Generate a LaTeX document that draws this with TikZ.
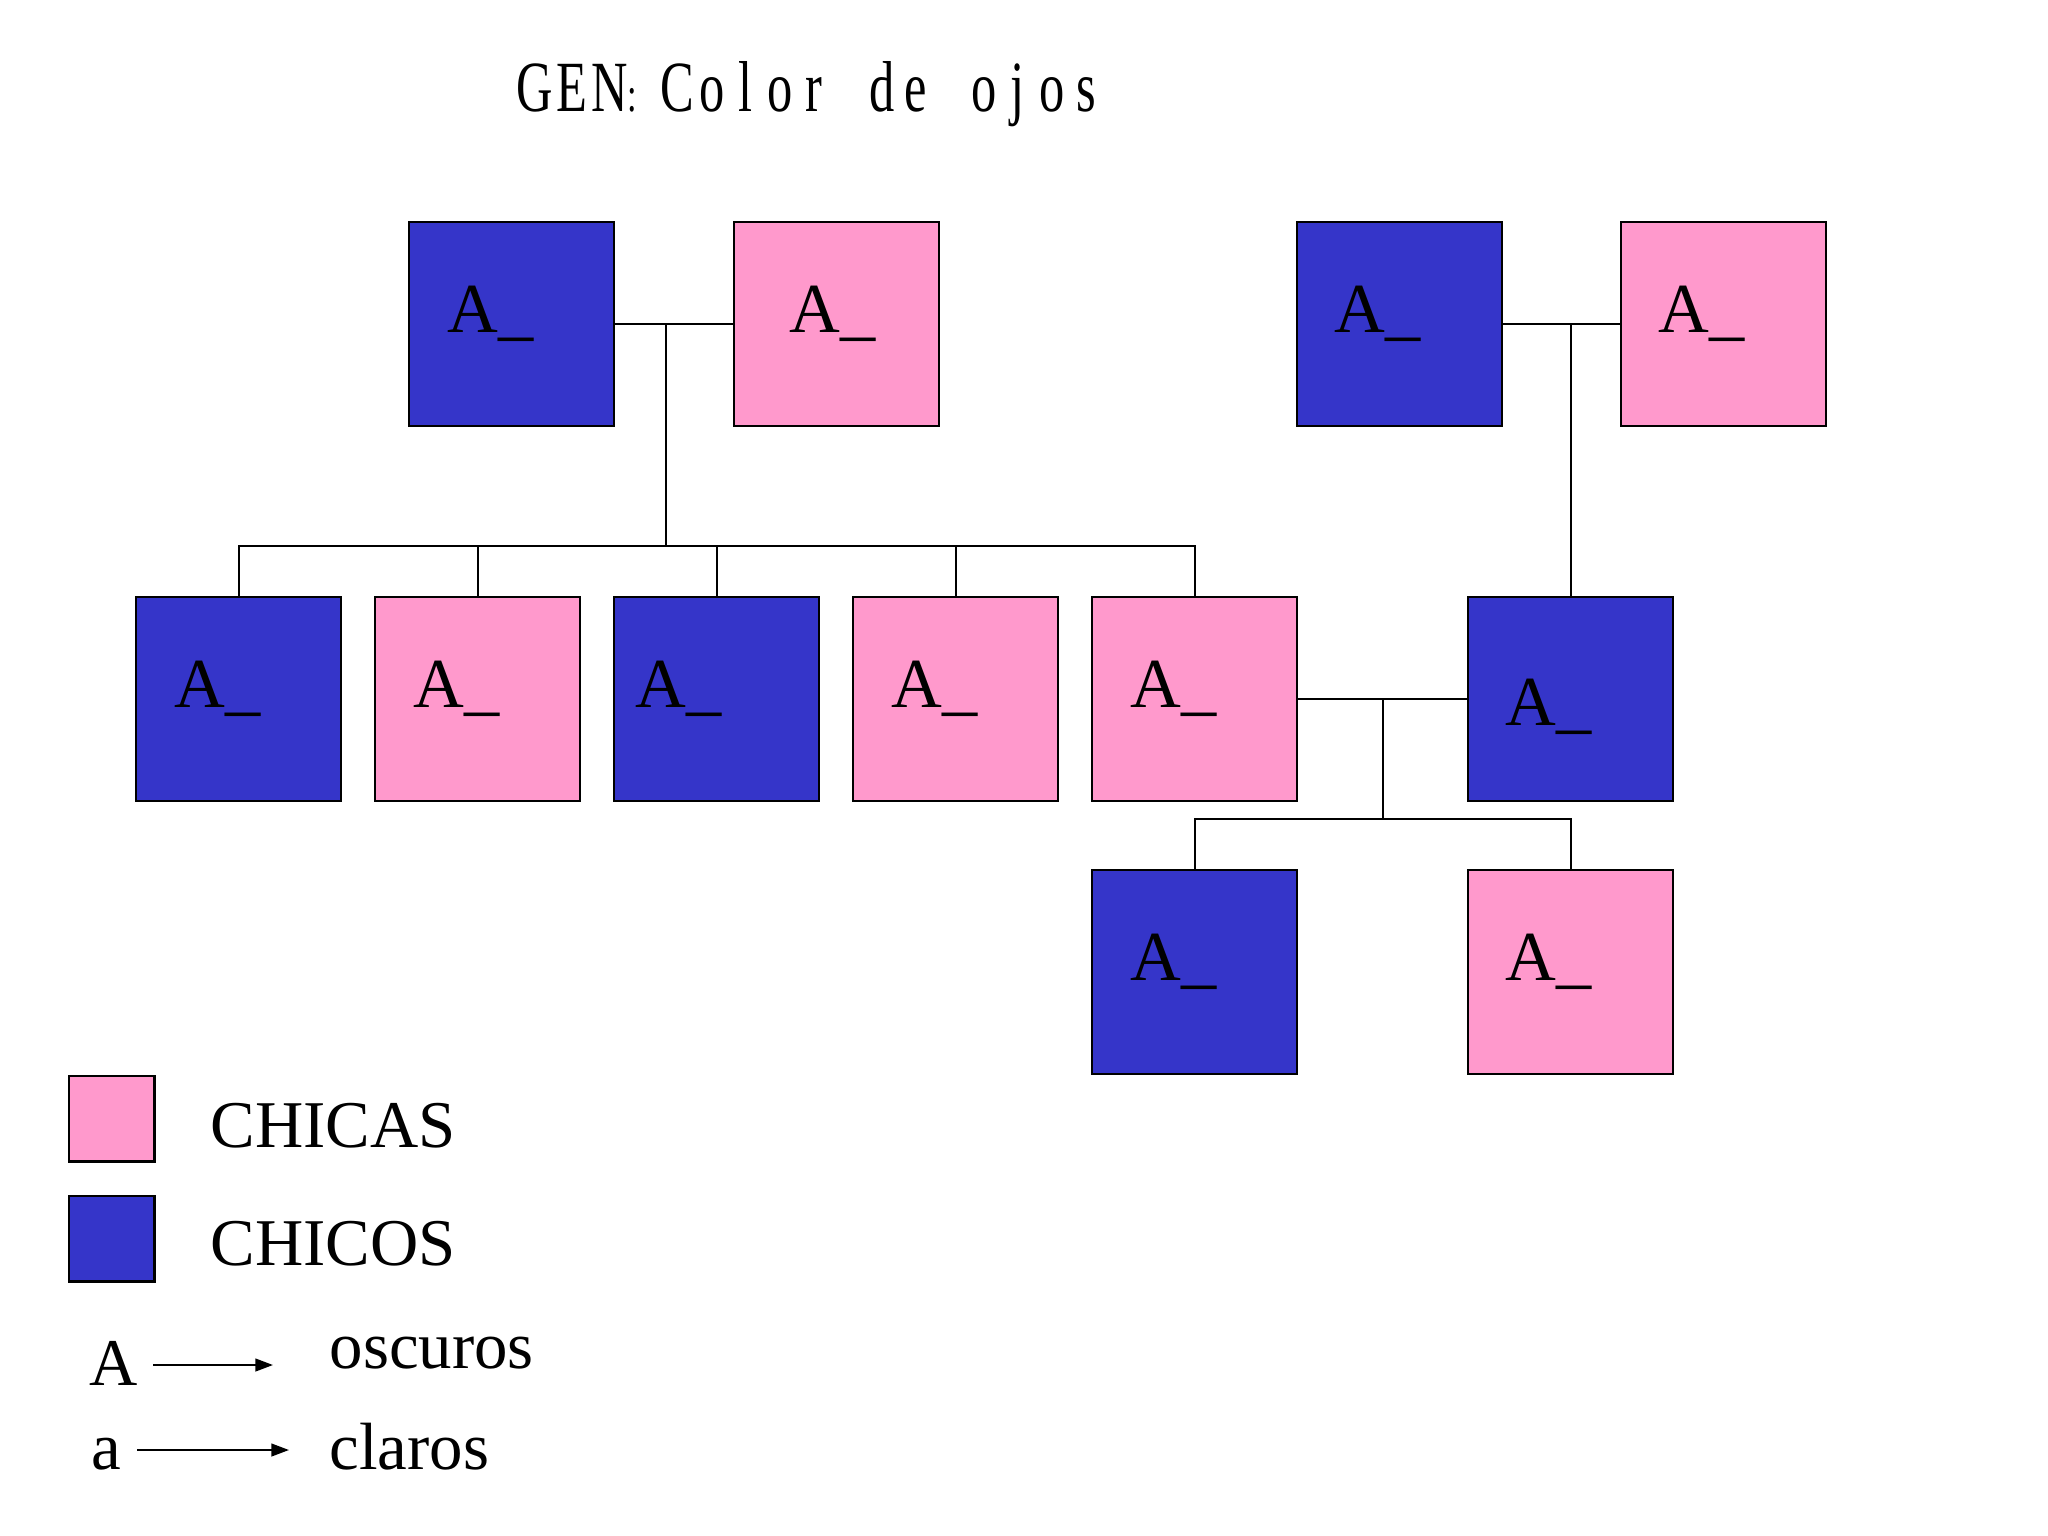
\documentclass[tikz,border=0pt]{standalone}
\usepackage{fontspec}
\setmainfont{Liberation Serif}
\newfontfamily\titlefont[FakeStretch=0.7]{Liberation Serif}
\usetikzlibrary{arrows.meta,calc}
\definecolor{boyblue}{HTML}{3535C9}
\definecolor{girlpink}{HTML}{FF99CC}
\newcommand\titlewide[1]{\makebox[0.37cm][c]{#1}}
\newcommand\titlecell[1]{\makebox[0.34cm][c]{#1}}
\begin{document}
\begin{tikzpicture}[x=0.01cm,y=-0.01cm,
  box/.style={draw=black, line width=0.7pt, minimum width=2.05cm, minimum height=2.04cm, inner sep=0pt, outer sep=0pt, anchor=north west},
  boy/.style={box, fill=boyblue},
  girl/.style={box, fill=girlpink},
  legbox/.style={draw=black, line width=0.7pt, minimum width=0.85cm, minimum height=0.85cm, inner sep=0pt, anchor=north west},
  lbl/.style={anchor=base west, inner sep=0pt, font=\fontsize{20}{24}\selectfont},
  legtxt/.style={anchor=base west, inner sep=0pt, font=\fontsize{19}{23}\selectfont},
  link/.style={line width=0.6pt},
  legarrow/.style={line width=0.6pt, -{Triangle[length=5pt,width=3.6pt]}}]
\useasboundingbox[fill=white] (0,0) rectangle (2048,1536);

% title
\node[anchor=base west, inner sep=0pt, font=\titlefont\fontsize{20.5}{24}\selectfont] (title) at (516,111)
  {\titlewide{G}\titlewide{E}\titlewide{N}\makebox[0.33cm][l]{\fontsize{14}{14}\selectfont :}%
   \titlecell{C}\titlecell{o}\titlecell{l}\titlecell{o}\titlecell{r}\titlecell{}%
   \titlecell{d}\titlecell{e}\titlecell{}%
   \titlecell{o}\titlecell{j}\titlecell{o}\titlecell{s}};

% generation 1
\node[boy]  (f1) at (409,222) {};
\node[girl] (m1) at (734,222) {};
\node[boy]  (f2) at (1297,222) {};
\node[girl] (m2) at (1621,222) {};
% generation 2
\node[boy]  (c1) at (136,597) {};
\node[girl] (c2) at (375,597) {};
\node[boy]  (c3) at (614,597) {};
\node[girl] (c4) at (853,597) {};
\node[girl] (c5) at (1092,597) {};
\node[boy]  (h)  at (1468,597) {};
% generation 3
\node[boy]  (g1) at (1092,870) {};
\node[girl] (g2) at (1468,870) {};

% labels
\node[lbl] (lf1) at ([shift={(38,110)}]f1.north west) {A\_};
\node[lbl] (lm1) at ([shift={(55,110)}]m1.north west) {A\_};
\node[lbl] (lf2) at ([shift={(37,110)}]f2.north west) {A\_};
\node[lbl] (lm2) at ([shift={(37,110)}]m2.north west) {A\_};
\node[lbl] (lc1) at ([shift={(38,110)}]c1.north west) {A\_};
\node[lbl] (lc2) at ([shift={(38,110)}]c2.north west) {A\_};
\node[lbl] (lc3) at ([shift={(21,110)}]c3.north west) {A\_};
\node[lbl] (lc4) at ([shift={(38,110)}]c4.north west) {A\_};
\node[lbl] (lc5) at ([shift={(38,110)}]c5.north west) {A\_};
\node[lbl] (lh)  at ([shift={(37,128)}]h.north west) {A\_};
\node[lbl] (lg1) at ([shift={(38,110)}]g1.north west) {A\_};
\node[lbl] (lg2) at ([shift={(37,110)}]g2.north west) {A\_};

% connectors: first couple
\draw[link] (f1.east) -- (m1.west);
\coordinate (j1) at (666,324);
\coordinate (b1) at (666,546);
\draw[link] (j1) -- (b1);
\draw[link] (c1.north) |- (b1) -| (c5.north);
\draw[link] (c2.north) -- (c2.north |- b1);
\draw[link] (c3.north) -- (c3.north |- b1);
\draw[link] (c4.north) -- (c4.north |- b1);
% second couple
\draw[link] (f2.east) -- (m2.west);
\draw[link] (h.north) -- (h.north |- f2.east);
% third couple
\draw[link] (c5.east) -- (h.west);
\coordinate (j3) at ($(c5.east)!0.5!(h.west)$);
\coordinate (b3) at ($(j3)+(0,120)$);
\draw[link] (j3) -- (b3);
\draw[link] (g1.north) |- (b3) -| (g2.north);

% legend
\node[legbox, fill=girlpink] (lgirl) at (68,1075) {};
\node[legbox, fill=boyblue]  (lboy)  at (68,1195) {};
\node[legtxt] (tgirl) at (210,1147) {CHICAS};
\node[legtxt] (tboy)  at (210,1265) {CHICOS};
\node[legtxt] (kA) at (89,1385) {A};
\node[legtxt] (ka) at (91,1469) {a};
\node[legtxt] (kosc) at (329,1368) {oscuros};
\node[legtxt] (kcla) at (329,1469) {claros};
\coordinate (a1s) at (153,1365);
\coordinate (a1e) at (273,1365);
\coordinate (a2s) at (137,1450);
\coordinate (a2e) at (289,1450);
\draw[legarrow] (a1s) -- (a1e);
\draw[legarrow] (a2s) -- (a2e);
\end{tikzpicture}
\end{document}
